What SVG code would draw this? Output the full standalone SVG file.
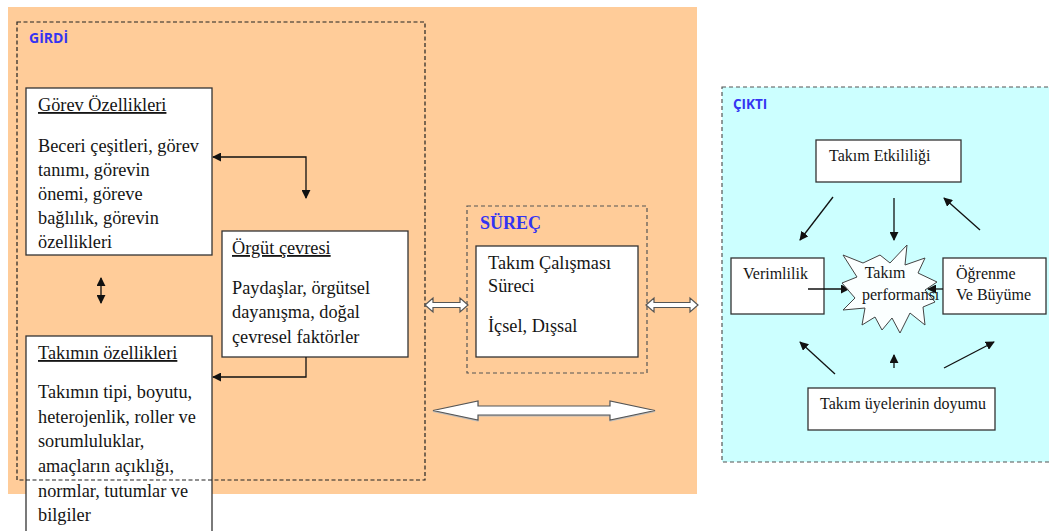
<svg xmlns="http://www.w3.org/2000/svg" width="1049" height="531" viewBox="0 0 1049 531">
<defs>
<style>
.bx{fill:#fff;stroke:#333;stroke-width:1.3}
.t{font-family:"Liberation Serif","Times New Roman",serif;font-size:18.3px;fill:#151515}
.ts{font-family:"Liberation Serif","Times New Roman",serif;font-size:16px;fill:#151515}
.u{text-decoration:underline}
.lbl{font-family:"Open Sans","Liberation Sans",sans-serif;font-weight:bold;fill:#3434F2}
.dash{fill:none;stroke:#222;stroke-width:1.2;stroke-dasharray:4 2.5}
.dashg{fill:none;stroke:#555;stroke-width:1.2;stroke-dasharray:4 3}
.ln{fill:none;stroke:#111;stroke-width:1.3}
.ha{fill:#fff;stroke:#555;stroke-width:1.2}
</style>
<marker id="ah" viewBox="0 0 10 10" refX="9" refY="5" markerWidth="9" markerHeight="9" markerUnits="userSpaceOnUse" orient="auto-start-reverse">
<path d="M0,0 L10,5 L0,10 z" fill="#111"/>
</marker>
</defs>

<!-- backgrounds -->
<rect x="8" y="7" width="689" height="487" fill="#FFCC99"/>
<rect x="722" y="87" width="340" height="375" fill="#CCFFFF" stroke="#555" stroke-width="1.2" stroke-dasharray="4 3"/>

<g id="gorev">
<rect class="bx" x="26" y="88" width="186" height="167"/>
<text class="t u" x="38" y="111">Görev Özellikleri</text>
<text class="t" x="38" y="152">Beceri çeşitleri, görev</text>
<text class="t" x="38" y="176">tanımı, görevin</text>
<text class="t" x="38" y="200">önemi, göreve</text>
<text class="t" x="38" y="224">bağlılık, görevin</text>
<text class="t" x="38" y="248">özellikleri</text>
</g>

<g id="orgut">
<rect class="bx" x="222" y="231" width="186" height="126"/>
<text class="t u" x="232" y="254">Örgüt çevresi</text>
<text class="t" x="232" y="294">Paydaşlar, örgütsel</text>
<text class="t" x="232" y="318">dayanışma, doğal</text>
<text class="t" x="232" y="343">çevresel faktörler</text>
</g>

<g id="takim">
<rect class="bx" x="26" y="336" width="186" height="196"/>
<text class="t u" x="38" y="359">Takımın özellikleri</text>
<text class="t" x="38" y="398">Takımın tipi, boyutu,</text>
<text class="t" x="38" y="423">heterojenlik, roller ve</text>
<text class="t" x="38" y="447">sorumluluklar,</text>
<text class="t" x="38" y="472">amaçların açıklığı,</text>
<text class="t" x="38" y="497">normlar, tutumlar ve</text>
<text class="t" x="38" y="521">bilgiler</text>
</g>

<g id="girdi">
<rect class="dash" x="17" y="22" width="408" height="458"/>
<text class="lbl" x="29" y="43" font-size="14">GİRDİ</text>
</g>

<g id="surec">
<rect class="dashg" x="467" y="206" width="180" height="167"/>
<text x="480" y="229" font-family="Liberation Serif,serif" font-weight="bold" font-size="18" fill="#3434F2">SÜREÇ</text>
<rect class="bx" x="476" y="246" width="162" height="111"/>
<text class="t" x="488" y="269">Takım Çalışması</text>
<text class="t" x="488" y="292">Süreci</text>
<text class="t" x="488" y="332">İçsel, Dışsal</text>
</g>

<g id="cikti">
<text class="lbl" x="733" y="109" font-size="13.5">ÇIKTI</text>
</g>

<g id="etkililik">
<rect class="bx" x="816" y="140" width="145" height="42"/>
<text class="ts" x="829" y="161">Takım Etkililiği</text>
</g>

<g id="verimlilik">
<rect class="bx" x="731" y="258" width="93" height="56"/>
<text class="ts" x="743" y="279">Verimlilik</text>
</g>

<g id="ogrenme">
<rect class="bx" x="943" y="258" width="103" height="56"/>
<text class="ts" x="956" y="279">Öğrenme</text>
<text class="ts" x="956" y="300">Ve Büyüme</text>
</g>

<g id="doyum">
<rect class="bx" x="808" y="388" width="187" height="42"/>
<text class="ts" x="820" y="409">Takım üyelerinin doyumu</text>
</g>

<g id="connectors">
<!-- input arrows -->
<polyline class="ln" points="306,198 306,157 213,157" marker-start="url(#ah)" marker-end="url(#ah)"/>
<polyline class="ln" points="306,357 306,377 213,377" marker-end="url(#ah)"/>
<line class="ln" x1="101" y1="278" x2="101" y2="303" marker-start="url(#ah)" marker-end="url(#ah)"/>
<!-- hollow arrows -->
<polygon class="ha" points="425,305 433,298 433,302.5 460,302.5 460,298 468,305 460,312 460,307.5 433,307.5 433,312"/>
<polygon class="ha" points="646,305 654,298 654,302.5 690,302.5 690,298 698,305 690,312 690,307.5 654,307.5 654,312"/>
<polygon class="ha" points="433,410.5 478,401 478,406 610,406 610,401 655,410.5 610,420 610,415 478,415 478,420" style="filter:drop-shadow(0 1.5px 0 #bbb)"/>
<!-- output arrows -->
<line class="ln" x1="833" y1="197" x2="800" y2="240" marker-end="url(#ah)"/>
<line class="ln" x1="894" y1="198" x2="894" y2="240" marker-end="url(#ah)"/>
<line class="ln" x1="980" y1="230" x2="944" y2="198" marker-end="url(#ah)"/>
<line class="ln" x1="808" y1="289" x2="849" y2="289" marker-end="url(#ah)"/>
<line class="ln" x1="943" y1="289" x2="928" y2="289" marker-end="url(#ah)"/>
<line class="ln" x1="835" y1="374" x2="800" y2="342" marker-end="url(#ah)"/>
<line class="ln" x1="894" y1="368" x2="894" y2="355" marker-end="url(#ah)"/>
<line class="ln" x1="944" y1="368" x2="994" y2="342" marker-end="url(#ah)"/>
</g>

<g id="performans">
<polygon fill="#fff" stroke="#444" stroke-width="1" fill-opacity="0.92" points="843,255 863,263 880,255 890,263 907,245 905,265 925,258 918,273 937,282 925,290 935,302 923,307 925,325 910,313 900,333 892,318 882,330 875,317 862,325 865,308 843,310 855,298 842,283 857,277"/>
<text class="ts" x="885" y="278" text-anchor="middle">Takım</text>
<text class="ts" x="862" y="300">performansı</text>
</g>
</svg>
